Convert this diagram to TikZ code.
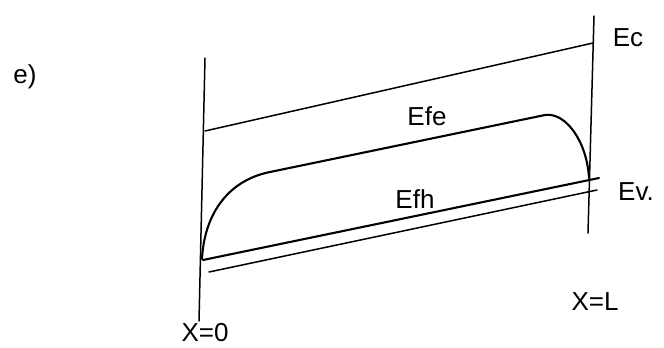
\documentclass[tikz,border=0pt]{standalone}
\usepackage{fontspec}
\setmainfont{Liberation Sans}
\begin{document}
\begin{tikzpicture}[
  x=1pt, y=-1pt,
  bdry/.style = {line width=1.5pt, line cap=round},
  band/.style = {line width=1.5pt, line cap=round},
  qfl/.style = {line width=2.1pt, line cap=round},
  lbl/.style = {font=\fontsize{26}{28}\selectfont, inner sep=0pt}
]
  \useasboundingbox (0,0) rectangle (664,348);
  % contacts
  \coordinate (left top) at (205,58);
  \coordinate (left bot) at (199,321);
  \coordinate (right top) at (594,16);
  \coordinate (right bot) at (588,233);
  \draw[bdry] (left top) -- (left bot);
  \draw[bdry] (right top) -- (right bot);
  % band edges
  \coordinate (ec a) at (205,131);
  \coordinate (ec b) at (593,43);
  \coordinate (efh a) at (203,260);
  \coordinate (efh b) at (599,178);
  \coordinate (ev a) at (209,272);
  \coordinate (ev b) at (597,190);
  \draw[band] (ec a) -- (ec b);
  \draw[qfl] (efh a) -- (efh b);
  \draw[band] (ev a) -- (ev b);
  % quasi fermi level of electrons
  \coordinate (efe a) at (202,259);
  \coordinate (efe knee) at (270,172);
  \coordinate (efe top) at (545,115);
  \coordinate (efe b) at (589,178);
  \draw[qfl] (efe a) .. controls (204,218) and (225,181) .. (efe knee)
    -- (efe top) .. controls (566,112) and (587,142) .. (efe b);
  % labels
  \node[lbl] (part) at (25,77) {e)};
  \node[lbl] (ec) at (628,38) {Ec};
  \node[lbl] (ev) at (636,192) {Ev.};
  \node[lbl] (efe) at (427,116) {Efe};
  \node[lbl] (efh) at (415,199) {Efh};
  \node[lbl] (x0) at (205,333) {X=0};
  \node[lbl] (xl) at (595,302) {X=L};
\end{tikzpicture}
\end{document}
